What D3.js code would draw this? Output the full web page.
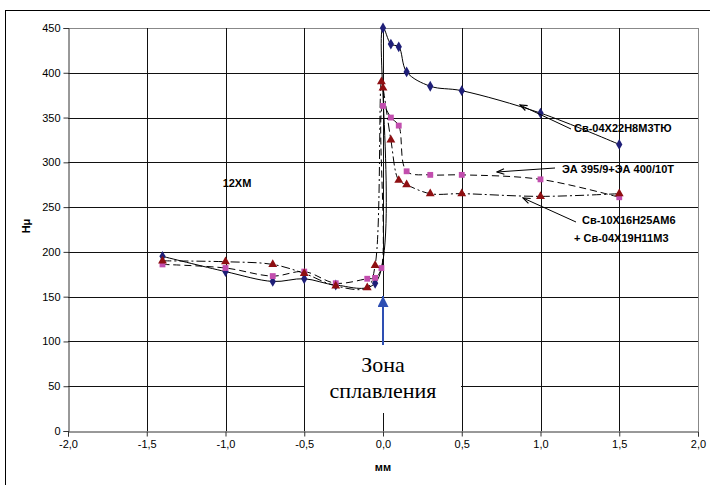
<!DOCTYPE html>
<html>
<head>
<meta charset="utf-8">
<script src="https://cdn.jsdelivr.net/npm/d3@7"></script>
<style>
  body { margin: 0; background: #fff; }
  text { font-family: "Liberation Sans", Arial, sans-serif; }
</style>
</head>
<body>
<svg id="chart" width="710" height="485"></svg>
<script>
// Tick values
const xTicks = [-2, -1.5, -1, -0.5, 0, 0.5, 1, 1.5, 2];
const yTicks = [0, 50, 100, 150, 200, 250, 300, 350, 400, 450];

// Св-04Х22Н8М3ТЮ
const s1X = [-1.4, -1.0, -0.7, -0.5, -0.3, -0.05, 0.0, 0.05, 0.1, 0.15, 0.3, 0.5, 1.0, 1.5];
const s1Y = [195, 178, 167, 170, 163, 165, 450, 432, 429, 401, 385, 380, 355, 320];

// ЭА 395/9+ЭА 400/10Т
const s2X = [-1.4, -1.0, -0.7, -0.5, -0.3, -0.1, -0.05, -0.01, 0.0, 0.05, 0.1, 0.15, 0.3, 0.5, 1.0, 1.5];
const s2Y = [186, 182, 173, 178, 165, 170, 171, 182, 363, 350, 341, 290, 286, 286, 281, 261];

// Св-10Х16Н25АМ6 + Св-04Х19Н11М3
const s3X = [-1.4, -1.0, -0.7, -0.5, -0.3, -0.1, -0.05, -0.01, 0.0, 0.05, 0.1, 0.15, 0.3, 0.5, 1.0, 1.5];
const s3Y = [190, 189, 186, 176, 162, 160, 185, 390, 383, 325, 280, 275, 265, 265, 262, 265];

const svg = d3.select('#chart');
const margin = { left: 68, top: 28, right: 12, bottom: 54 };

const x = d3.scaleLinear().domain([-2, 2]).range([margin.left, 698]);
const y = d3.scaleLinear().domain([0, 450]).range([431, margin.top]);

const loc = d3.formatLocale({ decimal: ',', thousands: ' ', grouping: [3], currency: ['', ''], minus: '-' });
const fmtX = loc.format('.1f');

// outer frame
svg.append('rect')
  .attr('x', 5.5).attr('y', 10.5)
  .attr('width', 720).attr('height', 490)
  .attr('fill', '#fff').attr('stroke', '#000').attr('stroke-width', 1);

// gridlines
const grid = svg.append('g').attr('class', 'grid');
grid.selectAll('line.h').data(yTicks.filter(d => d > 0)).join('line')
  .attr('class', 'h')
  .attr('x1', x(-2)).attr('x2', x(2))
  .attr('y1', d => Math.round(y(d)) + 0.5).attr('y2', d => Math.round(y(d)) + 0.5)
  .attr('stroke', d => d === 450 ? '#888' : '#111').attr('stroke-width', 1);
grid.selectAll('line.v').data(xTicks.filter(d => d > -2)).join('line')
  .attr('class', 'v')
  .attr('y1', y(0)).attr('y2', y(450))
  .attr('x1', d => Math.round(x(d)) + 0.5).attr('x2', d => Math.round(x(d)) + 0.5)
  .attr('stroke', d => d === 2 ? '#888' : '#111').attr('stroke-width', 1);

// white label box for "Зона сплавления"
svg.append('rect')
  .attr('x', 305).attr('y', 345)
  .attr('width', 156).attr('height', 68)
  .attr('fill', '#fff');

// axes
const yAxis = svg.append('g')
  .attr('transform', `translate(${Math.round(x(-2)) + 0.5},0)`)
  .call(d3.axisLeft(y).tickValues(yTicks).tickSize(5).tickPadding(3).tickFormat(d3.format('d')));
const xAxis = svg.append('g')
  .attr('transform', `translate(0,${Math.round(y(0)) + 0.5})`)
  .call(d3.axisBottom(x).tickValues(xTicks).tickSize(5).tickPadding(4).tickFormat(fmtX));
[yAxis, xAxis].forEach(a => {
  a.select('.domain').attr('stroke', '#333');
  a.selectAll('.tick line').attr('stroke', '#333');
  a.selectAll('.tick text')
    .attr('fill', '#000')
    .style('font-size', '11px')
    .style('font-family', '"Liberation Sans", Arial, sans-serif');
});

// axis titles
svg.append('text')
  .attr('x', x(0)).attr('y', 471)
  .attr('text-anchor', 'middle')
  .style('font-size', '11px').style('font-weight', 'bold')
  .text('мм');
svg.append('text')
  .attr('transform', `translate(30,${226}) rotate(-90)`)
  .attr('text-anchor', 'middle')
  .style('font-size', '11px').style('font-weight', 'bold')
  .text('Hμ');

// series
const series = [
  { xs: s1X, ys: s1Y, dash: null, marker: 'diamond', color: '#1f1f78' },
  { xs: s2X, ys: s2Y, dash: '7,4', marker: 'square', color: '#c24eae' },
  { xs: s3X, ys: s3Y, dash: '9,3,2,3', marker: 'triangle', color: '#8e0f12' }
];

// centripetal spline keeps the overshoot near the jump small, like Excel's smoothing
const line = d3.line()
  .x(d => x(d[0]))
  .y(d => y(d[1]))
  .curve(d3.curveCatmullRom.alpha(0.5));

const symbols = {
  diamond: d3.symbol().type(d3.symbolDiamond).size(34),
  square: d3.symbol().type(d3.symbolSquare).size(34),
  triangle: d3.symbol().type(d3.symbolTriangle).size(34)
};

series.forEach(s => {
  const pts = s.xs.map((v, i) => [v, s.ys[i]]);
  svg.append('path')
    .datum(pts)
    .attr('d', line)
    .attr('fill', 'none')
    .attr('stroke', '#000')
    .attr('stroke-width', 1)
    .attr('stroke-dasharray', s.dash);
  s.pts = pts;
});

series.forEach(s => {
  svg.append('g').selectAll('path')
    .data(s.pts).join('path')
    .attr('transform', d => `translate(${x(d[0])},${y(d[1])})`)
    .attr('d', symbols[s.marker])
    .attr('fill', s.color);
});

// arrowhead markers
const defs = svg.append('defs');
defs.append('marker')
  .attr('id', 'arr')
  .attr('viewBox', '0 0 10 10')
  .attr('refX', 9).attr('refY', 5)
  .attr('markerWidth', 9).attr('markerHeight', 9)
  .attr('markerUnits', 'userSpaceOnUse')
  .attr('orient', 'auto')
  .append('path')
  .attr('d', 'M1,2 L9,5 L1,8')
  .attr('fill', 'none').attr('stroke', '#000').attr('stroke-width', 1.3);
defs.append('marker')
  .attr('id', 'arrBlue')
  .attr('viewBox', '0 0 10 10')
  .attr('refX', 10).attr('refY', 5)
  .attr('markerWidth', 11).attr('markerHeight', 11)
  .attr('markerUnits', 'userSpaceOnUse')
  .attr('orient', 'auto')
  .append('path')
  .attr('d', 'M0,0 L10,5 L0,10 Z')
  .attr('fill', '#2e4fb3');

// series annotations
const notes = svg.append('g').style('font-size', '11px').style('font-weight', 'bold');
notes.append('line')
  .attr('x1', 571).attr('y1', 129).attr('x2', 520).attr('y2', 105)
  .attr('stroke', '#000').attr('marker-end', 'url(#arr)');
notes.append('text').attr('x', 574).attr('y', 132).text('Св-04Х22Н8М3ТЮ');

notes.append('line')
  .attr('x1', 555).attr('y1', 168).attr('x2', 497).attr('y2', 172)
  .attr('stroke', '#000').attr('marker-end', 'url(#arr)');
notes.append('text').attr('x', 562).attr('y', 173).text('ЭА 395/9+ЭА 400/10Т');

notes.append('line')
  .attr('x1', 576).attr('y1', 222).attr('x2', 523).attr('y2', 198)
  .attr('stroke', '#000').attr('marker-end', 'url(#arr)');
notes.append('text').attr('x', 582).attr('y', 224).text('Св-10Х16Н25АМ6');
notes.append('text').attr('x', 574).attr('y', 242).text('+ Св-04Х19Н11М3');

notes.append('text').attr('x', 237).attr('y', 187).attr('text-anchor', 'middle').text('12ХМ');

// fusion zone arrow and label
svg.append('line')
  .attr('x1', x(0)).attr('y1', 345).attr('x2', x(0)).attr('y2', 296)
  .attr('stroke', '#2e4fb3').attr('stroke-width', 2)
  .attr('marker-end', 'url(#arrBlue)');
const zone = svg.append('text')
  .attr('text-anchor', 'middle')
  .style('font-family', '"Liberation Serif", "Times New Roman", serif')
  .style('font-size', '22px');
zone.append('tspan').attr('x', x(0)).attr('y', 372).text('Зона');
zone.append('tspan').attr('x', x(0)).attr('y', 398).text('сплавления');
</script>
</body>
</html>
